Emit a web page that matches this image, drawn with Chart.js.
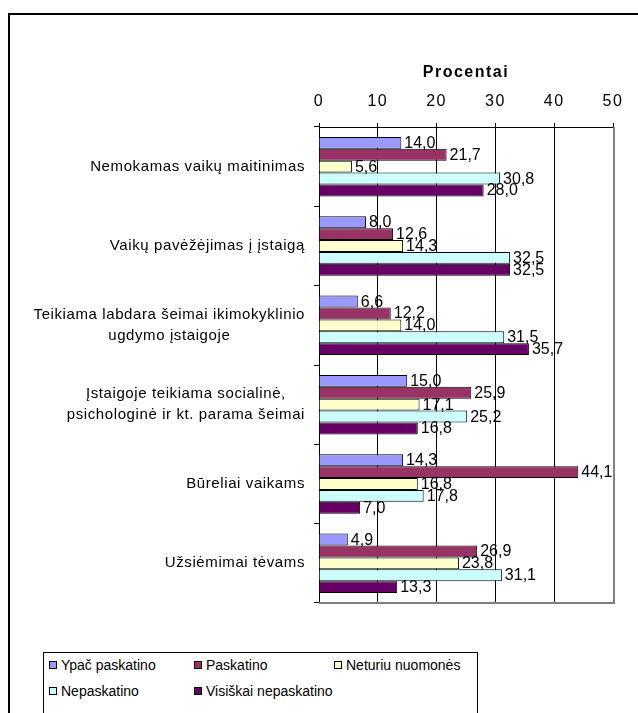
<!DOCTYPE html>
<html>
<head>
<meta charset="utf-8">
<script src="https://cdn.jsdelivr.net/npm/chart.js@4.4.1/dist/chart.umd.min.js"></script>
<style>
  html, body { margin: 0; padding: 0; background: #fff; overflow: hidden; width: 638px; height: 713px; }
  #wrap { position: relative; width: 638px; height: 713px; overflow: hidden; }
  #c { position: absolute; left: 0; top: 0; }
  #frame { position: absolute; left: 8px; top: 13px; width: 700px; height: 800px; border-left: 2px solid #000; border-top: 2px solid #000; pointer-events: none; }
  #legend { position: absolute; left: 43px; top: 652px; width: 433px; height: 90px; border: 1px solid #000; background: #fff;
            font-family: Arial, "Liberation Sans", sans-serif; font-size: 14px; color: #000; }
  .item { position: absolute; height: 18px; line-height: 18px; white-space: nowrap; }
  .sw { position: absolute; left: 0; top: 5px; width: 6px; height: 6px; border: 1px solid #000; }
  .lbl { position: absolute; left: 12px; top: 0; }
</style>
</head>
<body>
<div id="wrap">
  <canvas id="c" width="638" height="713"></canvas>
  <div id="frame"></div>
  <div id="legend"></div>
</div>
<script>
// ---- data ----
const categories = [
  "Nemokamas vaikų maitinimas",
  "Vaikų pavėžėjimas į įstaigą",
  ["Teikiama labdara šeimai ikimokyklinio", "ugdymo įstaigoje"],
  ["Įstaigoje teikiama socialinė,", "psichologinė ir kt. parama šeimai"],
  "Būreliai vaikams",
  "Užsiėmimai tėvams"
];
const seriesNames = ["Ypač paskatino", "Paskatino", "Neturiu nuomonės", "Nepaskatino", "Visiškai nepaskatino"];
const ypacPaskatino = [14.0, 8.0, 6.6, 15.0, 14.3, 4.9];
const paskatino = [21.7, 12.6, 12.2, 25.9, 44.1, 26.9];
const neturiuNuomones = [5.6, 14.3, 14.0, 17.1, 16.8, 23.8];
const nepaskatino = [30.8, 32.5, 31.5, 25.2, 17.8, 31.1];
const visiskaiNepaskatino = [28.0, 32.5, 35.7, 16.8, 7.0, 13.3];
const xTickValues = [0, 10, 20, 30, 40, 50];
const axisTitle = "Procentai";

const seriesValues = [ypacPaskatino, paskatino, neturiuNuomones, nepaskatino, visiskaiNepaskatino];
const colors = ["#9999FF", "#993366", "#FFFFCC", "#CCFFFF", "#660066"];

const FONT = 'Arial, "Liberation Sans", sans-serif';

const datasets = seriesNames.map((n, i) => ({
  label: n,
  data: seriesValues[i],
  backgroundColor: colors[i],
  borderColor: "#000",
  borderWidth: 1,
  borderSkipped: "start",
  categoryPercentage: 0.75,
  barPercentage: 1.0
}));

const decor = {
  id: "decor",
  beforeDraw(chart) {
    chart.ctx.letterSpacing = "1.5px";
  },
  beforeDatasetsDraw(chart) {
    const ctx = chart.ctx;
    ctx.letterSpacing = "0px";
    const a = chart.chartArea;
    ctx.save();
    ctx.strokeStyle = "#808080";
    ctx.lineWidth = 2;
    ctx.beginPath();
    ctx.moveTo(a.left, a.bottom);
    ctx.lineTo(a.right + 1, a.bottom);
    ctx.moveTo(a.right + 1, a.top);
    ctx.lineTo(a.right + 1, a.bottom + 1);
    ctx.stroke();
    ctx.restore();
  },
  afterDatasetsDraw(chart) {
    const ctx = chart.ctx;
    ctx.save();
    ctx.letterSpacing = "0px";
    ctx.font = "16px " + FONT;
    ctx.fillStyle = "#000";
    ctx.textAlign = "left";
    ctx.textBaseline = "alphabetic";
    chart.data.datasets.forEach((ds, di) => {
      const meta = chart.getDatasetMeta(di);
      meta.data.forEach((bar, i) => {
        const v = ds.data[i];
        ctx.fillText(v.toFixed(1).replace(".", ","), bar.x + 3, bar.y + 5);
      });
    });
    // category labels (block right-aligned, lines centered)
    ctx.letterSpacing = "0.6px";
    ctx.font = "15px " + FONT;
    const ys = chart.scales.y;
    const right = chart.chartArea.left - 14;
    const lh = 21;
    categories.forEach((c, i) => {
      const lines = Array.isArray(c) ? c : [c];
      const widths = lines.map(l => ctx.measureText(l).width);
      const bw = Math.max(...widths);
      const cx = right - bw / 2;
      const yc = ys.getPixelForValue(i);
      ctx.textAlign = "center";
      ctx.textBaseline = "middle";
      lines.forEach((l, k) => {
        const y = yc - (lines.length - 1) * lh / 2 + k * lh;
        ctx.fillText(l, cx, y);
      });
    });
    ctx.restore();
  }
};

new Chart(document.getElementById("c"), {
  type: "bar",
  data: { labels: categories, datasets },
  options: {
    indexAxis: "y",
    responsive: false,
    animation: false,
    layout: { padding: { left: 0, right: 25, top: 0, bottom: 110 } },
    plugins: { legend: { display: false }, tooltip: { enabled: false } },
    scales: {
      x: {
        position: "top",
        min: 0, max: 50,
        afterBuildTicks(s) { s.ticks = xTickValues.map(v => ({ value: v })); },
        ticks: { color: "#000", font: { family: FONT, size: 16 }, padding: 12, maxRotation: 0 },
        grid: {
          color: (c) => (c.tick && c.tick.value === 50) ? "rgba(0,0,0,0)" : "#000",
          tickColor: "#000",
          lineWidth: 1,
          tickLength: 4,
          drawTicks: true
        },
        border: { display: true, color: "#000", width: 1 },
        title: { display: true, text: axisTitle, color: "#000", font: { family: FONT, size: 16, weight: "bold" }, padding: { top: 63, bottom: 0 } },
        afterFit(s) { s.height = 127; }
      },
      y: {
        ticks: { display: false },
        grid: { drawOnChartArea: false, drawTicks: true, tickLength: 5, color: "#000", offset: true },
        border: { display: true, color: "#000", width: 1 },
        afterFit(s) { s.width = 319; }
      }
    }
  },
  plugins: [decor]
});

// legend
const legend = document.getElementById("legend");
const pos = [[5, 3], [150, 3], [290, 3], [5, 29], [150, 29]];
seriesNames.forEach((n, i) => {
  const d = document.createElement("div");
  d.className = "item";
  d.style.left = pos[i][0] + "px";
  d.style.top = pos[i][1] + "px";
  const sw = document.createElement("div");
  sw.className = "sw";
  sw.style.background = colors[i];
  const t = document.createElement("span");
  t.className = "lbl";
  t.textContent = n;
  d.appendChild(sw);
  d.appendChild(t);
  legend.appendChild(d);
});
</script>
</body>
</html>
